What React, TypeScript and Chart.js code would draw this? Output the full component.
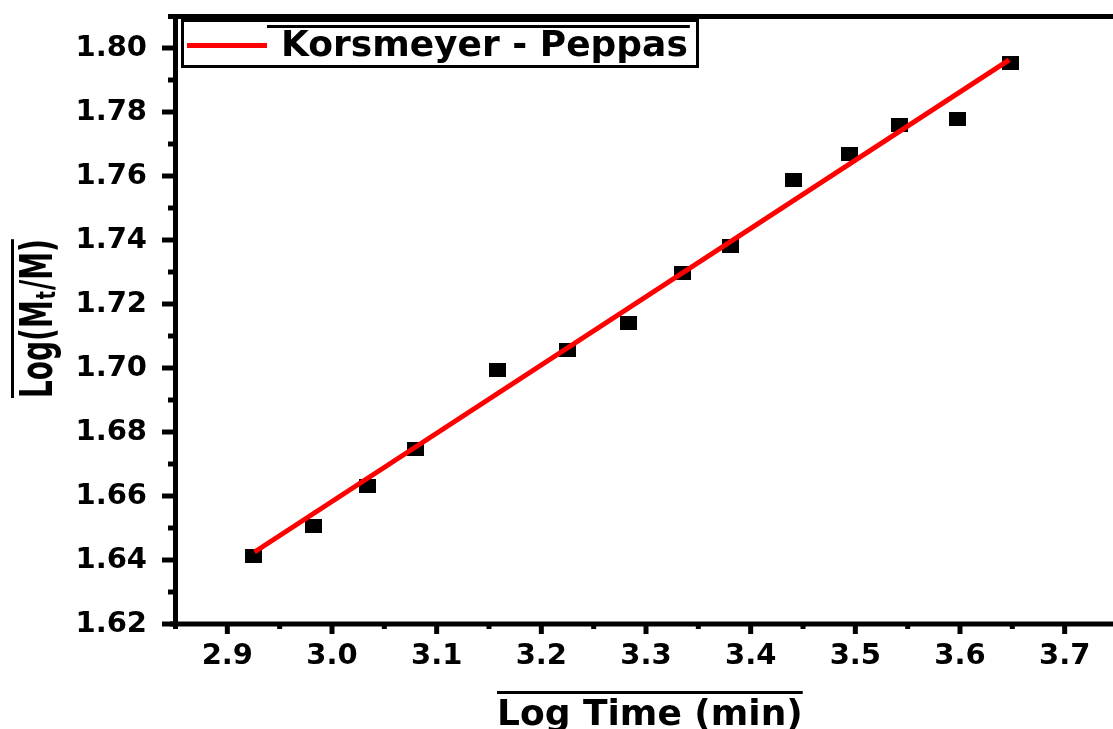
import React, { useEffect, useRef } from "react";
import { Chart, registerables } from "chart.js";

Chart.register(...registerables);

// ---- data ----
const releaseLogTime = [2.925, 2.9825, 3.034, 3.08, 3.158, 3.225, 3.2837, 3.335, 3.381, 3.441, 3.494, 3.542, 3.598, 3.648];
const releaseLogFraction = [1.6414, 1.6505, 1.663, 1.6747, 1.6994, 1.7056, 1.714, 1.7297, 1.7381, 1.7588, 1.7669, 1.7759, 1.7778, 1.7953];
const fitLogTime = [2.926, 3.647];
const fitLogFraction = [1.6425, 1.7963];
const xTickValues = [2.9, 3.0, 3.1, 3.2, 3.3, 3.4, 3.5, 3.6, 3.7];
const yTickValues = [1.62, 1.64, 1.66, 1.68, 1.7, 1.72, 1.74, 1.76, 1.78, 1.8];
const legendLabel = "Korsmeyer - Peppas";
const xTitle = "Log Time (min)";

const FAMILY = '"DejaVu Sans", "Liberation Sans", sans-serif';
const W = 1125;
const H = 729;

export default function App() {
  const ref = useRef<HTMLCanvasElement | null>(null);

  useEffect(() => {
    document.documentElement.style.overflow = "hidden";
    document.body.style.overflow = "hidden";
    document.body.style.margin = "0";
    const canvas = ref.current;
    if (!canvas) return;

    const marker = document.createElement("canvas");
    marker.width = 17;
    marker.height = 14;
    const mctx = marker.getContext("2d")!;
    mctx.fillStyle = "#000";
    mctx.fillRect(0, 0, 17, 14);

    const framePlugin = {
      id: "originFrame",
      afterDraw(chart: any) {
        const { ctx, chartArea: ca, scales } = chart;
        const xs = scales.x;
        const ys = scales.y;
        const line = (x1: number, y1: number, x2: number, y2: number) => {
          ctx.beginPath();
          ctx.moveTo(x1, y1);
          ctx.lineTo(x2, y2);
          ctx.stroke();
        };
        ctx.save();
        ctx.strokeStyle = "#000";
        ctx.fillStyle = "#000";
        ctx.lineCap = "butt";

        // frame
        ctx.lineWidth = 5;
        line(ca.left - 7, ca.top + 0.5, ca.right + 5, ca.top + 0.5);
        line(ca.left - 5, ca.bottom, ca.right + 5, ca.bottom);
        line(ca.left + 0.5, ca.top - 2, ca.left + 0.5, ca.bottom + 5);
        line(ca.right, ca.top - 2, ca.right, ca.bottom + 2);

        // y ticks
        ctx.lineWidth = 5;
        yTickValues.forEach((v, i) => {
          const p = ys.getPixelForValue(v);
          line(ca.left - 13, p, ca.left, p);
          if (i < yTickValues.length - 1) {
            const m = ys.getPixelForValue((v + yTickValues[i + 1]) / 2);
            line(ca.left - 7, m, ca.left, m);
          }
        });
        // x ticks
        xTickValues.forEach((v, i) => {
          const p = xs.getPixelForValue(v);
          line(p, ca.bottom, p, ca.bottom + 10);
          if (i < xTickValues.length - 1) {
            const m = xs.getPixelForValue((v + xTickValues[i + 1]) / 2);
            line(m, ca.bottom, m, ca.bottom + 5);
          }
        });

        // legend
        ctx.fillStyle = "#fff";
        ctx.fillRect(182.5, 20.5, 515, 46);
        ctx.fillStyle = "#000";
        ctx.lineWidth = 3;
        ctx.strokeRect(182.5, 20.5, 515, 46);
        ctx.strokeStyle = "#ff0000";
        ctx.lineWidth = 5;
        line(187, 45.5, 267, 45.5);
        ctx.strokeStyle = "#000";
        ctx.font = `bold 36px ${FAMILY}`;
        ctx.textBaseline = "alphabetic";
        ctx.textAlign = "left";
        ctx.fillText(legendLabel, 281, 56);
        const lw = ctx.measureText(legendLabel).width;
        ctx.lineWidth = 3;
        line(267, 26.5, 281 + lw + 2, 26.5);

        // x title
        ctx.font = `bold 36px ${FAMILY}`;
        const tw = ctx.measureText(xTitle).width;
        const tx = 497;
        ctx.fillText(xTitle, tx, 725);
        ctx.lineWidth = 3;
        line(tx, 692.5, tx + tw, 692.5);

        // y title (rotated)
        ctx.save();
        ctx.translate(52, 398);
        ctx.rotate(-Math.PI / 2);
        ctx.scale(1, 1.6);
        ctx.font = `bold 28px ${FAMILY}`;
        ctx.fillText("Log(M", 0, 0);
        let w = ctx.measureText("Log(M").width;
        ctx.font = `bold 17px ${FAMILY}`;
        ctx.fillText("t", w + 1, 2);
        w += ctx.measureText("t").width + 2;
        ctx.font = `bold 28px ${FAMILY}`;
        ctx.fillText("/M)", w, 0);
        w += ctx.measureText("/M)").width;
        ctx.restore();
        ctx.lineWidth = 3;
        line(12.5, 398, 12.5, 398 - w);

        ctx.restore();
      },
    };

    const chart = new Chart(canvas, {
      type: "scatter",
      data: {
        datasets: [
          {
            label: legendLabel,
            data: fitLogTime.map((x, i) => ({ x, y: fitLogFraction[i] })),
            showLine: true,
            borderColor: "#ff0000",
            backgroundColor: "#ff0000",
            borderWidth: 5,
            pointRadius: 0,
            fill: false,
          },
          {
            label: "data",
            data: releaseLogTime.map((x, i) => ({ x, y: releaseLogFraction[i] })),
            showLine: false,
            pointStyle: marker as any,
            pointRadius: 8,
            borderWidth: 0,
          },
        ],
      },
      options: {
        responsive: false,
        animation: false,
        devicePixelRatio: 1,
        layout: { padding: { top: 16, right: 6, left: 0, bottom: 0 } },
        plugins: {
          legend: { display: false },
          tooltip: { enabled: false },
          title: { display: false },
        },
        scales: {
          x: {
            type: "linear",
            min: 2.85,
            max: 3.75,
            grid: { display: false, drawTicks: false },
            border: { display: false },
            ticks: {
              padding: 15,
              color: "#000",
              font: { family: FAMILY, size: 29, weight: "bold" },
              maxRotation: 0,
              autoSkip: false,
              callback: (v: any) => Number(v).toFixed(1),
            },
            afterBuildTicks: (s: any) => {
              s.ticks = xTickValues.map((value) => ({ value }));
            },
            afterFit: (s: any) => {
              s.height = 105;
              s.paddingLeft = 0;
              s.paddingRight = 0;
              s.paddingTop = 0;
              s.paddingBottom = 0;
            },
          },
          y: {
            type: "linear",
            min: 1.62,
            max: 1.81,
            grid: { display: false, drawTicks: false },
            border: { display: false },
            ticks: {
              padding: 28,
              color: "#000",
              font: { family: FAMILY, size: 29, weight: "bold" },
              autoSkip: false,
              callback: (v: any) => Number(v).toFixed(2),
            },
            afterBuildTicks: (s: any) => {
              s.ticks = yTickValues.map((value) => ({ value }));
            },
            afterFit: (s: any) => {
              s.width = 175;
              s.paddingLeft = 0;
              s.paddingRight = 0;
              s.paddingTop = 0;
              s.paddingBottom = 0;
            },
          },
        },
      } as any,
      plugins: [framePlugin],
    });

    return () => chart.destroy();
  }, []);

  return (
    <div style={{ position: "fixed", left: 0, top: 0, width: W, height: H, overflow: "visible", background: "#fff" }}>
      <canvas ref={ref} width={W} height={H} style={{ display: "block", width: W, height: H }} />
    </div>
  );
}
